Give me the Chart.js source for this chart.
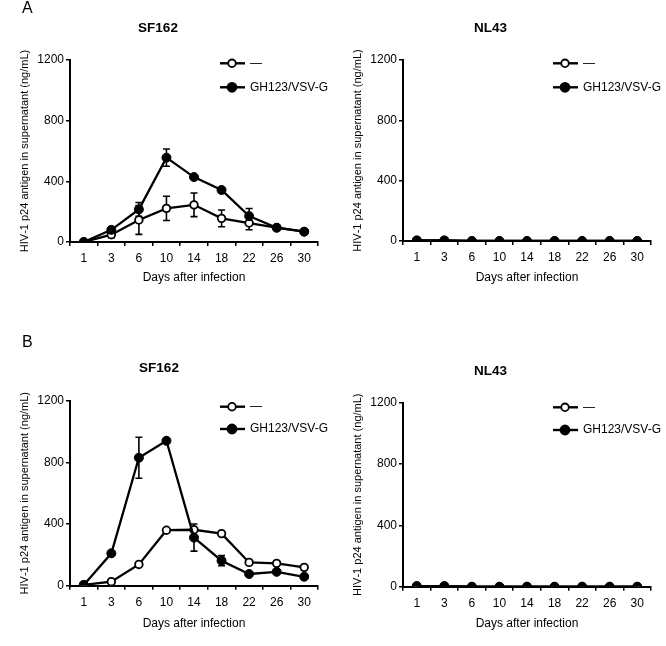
<!DOCTYPE html>
<html><head><meta charset="utf-8">
<script src="https://cdn.jsdelivr.net/npm/chart.js@4.4.1/dist/chart.umd.min.js"></script>
<style>
html,body{margin:0;padding:0;background:#fff;}
#wrap{position:relative;width:666px;height:646px;overflow:hidden;}
canvas{position:absolute;}
</style></head><body>
<div id="wrap">
<canvas id="cA1" width="333" height="300" style="left:0;top:0"></canvas>
<canvas id="cA2" width="333" height="300" style="left:333px;top:0"></canvas>
<canvas id="cB1" width="333" height="326" style="left:0;top:320px"></canvas>
<canvas id="cB2" width="333" height="326" style="left:333px;top:320px"></canvas>
</div>
<script>
// ---- data ----
const days = ['1','3','6','10','14','18','22','26','30'];
const yTickValues = [0, 400, 800, 1200];
const seriesNames = ['\u2014', 'GH123/VSV-G'];

const aSF162Mock    = [0, 48, 145, 222, 245, 156, 125, 95, 68];
const aSF162MockErr = [0, 20, 95, 80, 78, 55, 44, 8, 5];
const aSF162GH      = [0, 80, 215, 556, 428, 343, 171, 94, 68];
const aSF162GHErr   = [0, 10, 45, 57, 10, 8, 50, 15, 5];

const aNL43Mock     = [4, 4, 0, 0, 0, 0, 0, 0, 0];
const aNL43MockErr  = [0, 0, 0, 0, 0, 0, 0, 0, 0];
const aNL43GH       = [4, 4, 0, 0, 0, 0, 0, 0, 0];
const aNL43GHErr    = [0, 0, 0, 0, 0, 0, 0, 0, 0];

const bSF162Mock    = [5, 26, 138, 360, 363, 338, 151, 145, 119];
const bSF162MockErr = [0, 5, 5, 5, 8, 5, 5, 5, 5];
const bSF162GH      = [5, 210, 830, 940, 312, 162, 76, 90, 58];
const bSF162GHErr   = [0, 10, 133, 5, 88, 33, 10, 8, 5];

const bNL43Mock     = [4, 4, 0, 0, 0, 0, 0, 0, 0];
const bNL43MockErr  = [0, 0, 0, 0, 0, 0, 0, 0, 0];
const bNL43GH       = [4, 4, 0, 0, 0, 0, 0, 0, 0];
const bNL43GHErr    = [0, 0, 0, 0, 0, 0, 0, 0, 0];

const FONT = '"Liberation Sans", Arial, Helvetica, sans-serif';

function makeChart(id, c) {
  const errs = [c.mockErr, c.ghErr];
  const decor = {
    id: 'decor',
    beforeDatasetsDraw(chart) {
      const ctx = chart.ctx, xs = chart.scales.x, ys = chart.scales.y;
      ctx.save();
      ctx.strokeStyle = '#000';
      ctx.lineWidth = 1.6;
      chart.data.datasets.forEach((ds, di) => {
        const err = errs[di];
        ds.data.forEach((v, i) => {
          const e = err[i];
          if (!e) return;
          const x = xs.getPixelForValue(i);
          const yt = ys.getPixelForValue(v + e);
          const yb = ys.getPixelForValue(Math.max(0, v - e));
          ctx.beginPath();
          ctx.moveTo(x, yt); ctx.lineTo(x, yb);
          ctx.moveTo(x - 3.5, yt); ctx.lineTo(x + 3.5, yt);
          ctx.moveTo(x - 3.5, yb); ctx.lineTo(x + 3.5, yb);
          ctx.stroke();
        });
      });
      ctx.restore();
    },
    afterDraw(chart) {
      const ctx = chart.ctx;
      ctx.save();
      ctx.fillStyle = '#000';
      // panel title
      ctx.font = 'bold 13.5px ' + FONT;
      ctx.textAlign = 'center';
      ctx.textBaseline = 'middle';
      ctx.fillText(c.title, c.titleX, c.titleY);
      // panel letter
      if (c.letter) {
        ctx.font = '16px ' + FONT;
        ctx.textAlign = 'left';
        ctx.textBaseline = 'alphabetic';
        ctx.fillText(c.letter, 22, c.letterY);
      }
      // legend
      const fills = ['#fff', '#000'];
      c.legendY.forEach((ly, k) => {
        ctx.strokeStyle = '#000';
        ctx.lineWidth = 2.4;
        ctx.beginPath();
        ctx.moveTo(220, ly); ctx.lineTo(245, ly);
        ctx.stroke();
        ctx.beginPath();
        ctx.arc(232, ly, k === 0 ? 3.8 : 4.5, 0, Math.PI * 2);
        ctx.fillStyle = fills[k];
        ctx.fill();
        ctx.lineWidth = 1.8;
        ctx.stroke();
        ctx.fillStyle = '#000';
        ctx.font = '12px ' + FONT;
        ctx.textAlign = 'left';
        ctx.textBaseline = 'middle';
        ctx.fillText(seriesNames[k], 250, ly);
      });
      ctx.restore();
    }
  };

  return new Chart(document.getElementById(id), {
    type: 'line',
    data: {
      labels: days,
      datasets: [
        {
          label: seriesNames[0], data: c.mock, order: 1,
          borderColor: '#000', borderWidth: 2.3, fill: false, tension: 0,
          pointRadius: 3.8, pointBackgroundColor: '#fff', pointBorderColor: '#000', pointBorderWidth: 1.8
        },
        {
          label: seriesNames[1], data: c.gh, order: 0,
          borderColor: '#000', borderWidth: 2.3, fill: false, tension: 0,
          pointRadius: 4.5, pointBackgroundColor: '#000', pointBorderColor: '#000', pointBorderWidth: 1
        }
      ]
    },
    options: {
      responsive: false,
      animation: false,
      events: [],
      layout: { padding: { left: 0, right: 15, top: c.top, bottom: 0 } },
      plugins: { legend: { display: false }, tooltip: { enabled: false }, title: { display: false } },
      scales: {
        x: {
          type: 'category',
          offset: true,
          grid: { offset: true, drawOnChartArea: false, drawTicks: true, tickLength: 4, color: '#000', lineWidth: 1.5 },
          border: { display: true, color: '#000', width: 2 },
          ticks: { color: '#000', font: { family: FONT, size: 12 }, padding: 5.5, maxRotation: 0, autoSkip: false },
          title: { display: true, text: 'Days after infection', color: '#000', font: { family: FONT, size: 12 }, padding: { top: 0, bottom: 15 } },
          afterFit(s) { s.height = c.H - c.bottom; }
        },
        y: {
          min: 0, max: 1200,
          afterBuildTicks(s) { s.ticks = yTickValues.map(v => ({ value: v })); },
          grid: { drawOnChartArea: false, drawTicks: true, tickLength: 4, color: '#000', lineWidth: 1.5 },
          border: { display: true, color: '#000', width: 2 },
          ticks: { color: '#000', font: { family: FONT, size: 12 }, padding: 2, callback: v => String(v) },
          title: { display: true, text: 'HIV\u20111 p24 antigen in supernatant (ng/mL)', color: '#000', font: { family: FONT, size: 11 }, padding: { top: 18, bottom: 0 } },
          afterFit(s) { s.width = 70; }
        }
      }
    },
    plugins: [decor]
  });
}

makeChart('cA1', { H: 300, top: 60, bottom: 242, mock: aSF162Mock, mockErr: aSF162MockErr, gh: aSF162GH, ghErr: aSF162GHErr,
  title: 'SF162', titleX: 158, titleY: 28.3, letter: 'A', letterY: 12.5, legendY: [63.3, 87.3] });
makeChart('cA2', { H: 300, top: 60, bottom: 241, mock: aNL43Mock, mockErr: aNL43MockErr, gh: aNL43GH, ghErr: aNL43GHErr,
  title: 'NL43', titleX: 157.5, titleY: 28.3, legendY: [63.3, 87.3] });
makeChart('cB1', { H: 326, top: 80.7, bottom: 265.7, mock: bSF162Mock, mockErr: bSF162MockErr, gh: bSF162GH, ghErr: bSF162GHErr,
  title: 'SF162', titleX: 159, titleY: 48.3, letter: 'B', letterY: 27, legendY: [86.7, 109] });
makeChart('cB2', { H: 326, top: 82.7, bottom: 266.7, mock: bNL43Mock, mockErr: bNL43MockErr, gh: bNL43GH, ghErr: bNL43GHErr,
  title: 'NL43', titleX: 157.5, titleY: 51.7, legendY: [87.3, 110] });
</script>
</body></html>
